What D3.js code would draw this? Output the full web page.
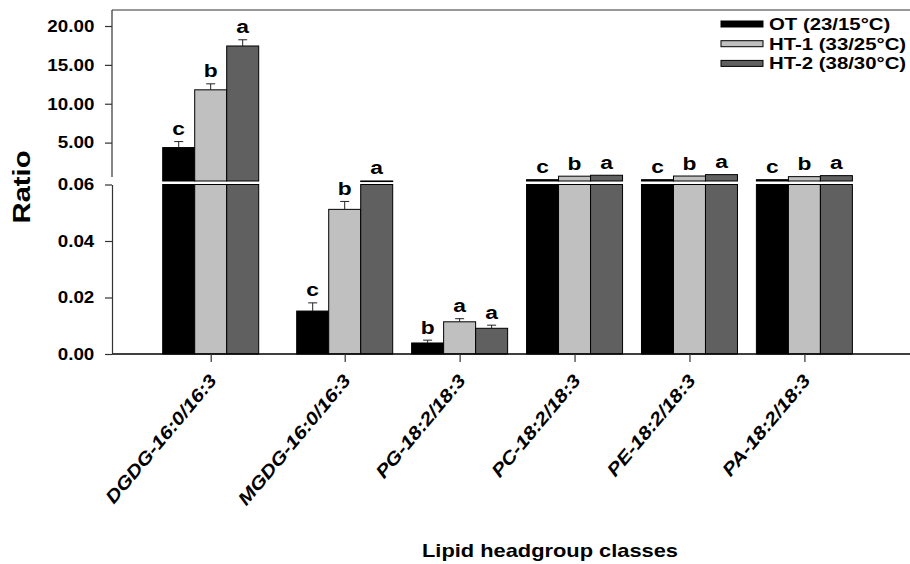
<!DOCTYPE html>
<html>
<head>
<meta charset="utf-8">
<script src="https://cdn.jsdelivr.net/npm/d3@7"></script>
<style>
  html, body { margin: 0; padding: 0; background: #fff; }
  svg text { font-family: "Liberation Sans", Arial, sans-serif; font-weight: bold; fill: #000; }
</style>
</head>
<body>
<svg id="chart" width="910" height="564"></svg>
<script>
// Lipid species and treatments
const categories = ["DGDG-16:0/16:3", "MGDG-16:0/16:3", "PG-18:2/18:3", "PC-18:2/18:3", "PE-18:2/18:3", "PA-18:2/18:3"];
const seriesNames = ["OT (23/15°C)", "HT-1 (33/25°C)", "HT-2 (38/30°C)"];
const seriesColors = ["#000000", "#c0c0c0", "#606060"];

// Mean ratios per treatment
const valuesOT  = [4.36, 0.0152, 0.0039, 0.23, 0.23, 0.23];
const valuesHT1 = [11.79, 0.0512, 0.0114, 0.68, 0.70, 0.62];
const valuesHT2 = [17.43, 0.065, 0.0091, 0.80, 0.88, 0.75];

// Standard errors (upper whisker only)
const errorsOT  = [0.77, 0.0029, 0.0010, 0, 0, 0];
const errorsHT1 = [0.77, 0.0028, 0.0011, 0, 0, 0];
const errorsHT2 = [0.80, 0, 0.0011, 0, 0, 0];

// Significance letters
const lettersOT  = ["c", "c", "b", "c", "c", "c"];
const lettersHT1 = ["b", "b", "a", "b", "b", "b"];
const lettersHT2 = ["a", "a", "a", "a", "a", "a"];

// Axis tick values for the two segments of the broken axis
const upperTicks = [5, 10, 15, 20];
const lowerTicks = [0, 0.02, 0.04, 0.06];

const values = [valuesOT, valuesHT1, valuesHT2];
const errors = [errorsOT, errorsHT1, errorsHT2];
const letters = [lettersOT, lettersHT1, lettersHT2];

const svg = d3.select("#chart");
const left = 112, right = 910;
const breakLow = 0.06;      // top of the lower segment
const SX = 1.2;             // horizontal widening of the lettering

// Broken y axis: two linear segments
const yLow = d3.scaleLinear().domain([0, breakLow]).range([354, 184.5]);
const yUp  = d3.scaleLinear().domain([breakLow, 22.06]).range([181, 10]);

// Group centres along the x axis
const xGroup = d3.scaleLinear().domain([0, 1, 5]).range([210.7, 344.7, 804.4]);
const xSeries = d3.scaleBand().domain([0, 1, 2]).range([-48, 48]).padding(0);

function stretchedText(g, x, y, str, size, opts = {}) {
  const rot = opts.rotate || 0;
  const sx = opts.sx || SX;
  return g.append("text")
    .attr("transform", `translate(${x},${y}) rotate(${rot}) scale(${sx},1)`)
    .attr("text-anchor", opts.anchor || "middle")
    .style("font-size", size + "px")
    .style("font-style", opts.italic ? "italic" : "normal")
    .text(str);
}

// Build bar records
const bars = [];
categories.forEach((cat, i) => {
  for (let s = 0; s < 3; s++) {
    bars.push({ i, s, v: values[s][i], e: errors[s][i], l: letters[s][i] });
  }
});

const barW = xSeries.bandwidth();
const barX = d => xGroup(d.i) + xSeries(d.s);

// Lower segment bars (clipped at the break)
svg.append("g").selectAll("rect").data(bars).join("rect")
  .attr("x", barX)
  .attr("width", barW)
  .attr("y", d => yLow(Math.min(d.v, breakLow)))
  .attr("height", d => yLow(0) - yLow(Math.min(d.v, breakLow)))
  .attr("fill", d => seriesColors[d.s])
  .attr("stroke", "#000").attr("stroke-width", 1);

// Upper segment bars (only the part above the break)
svg.append("g").selectAll("rect").data(bars.filter(d => d.v > breakLow)).join("rect")
  .attr("x", barX)
  .attr("width", barW)
  .attr("y", d => yUp(d.v))
  .attr("height", d => Math.max(0.6, yUp(breakLow) - yUp(d.v)))
  .attr("fill", d => seriesColors[d.s])
  .attr("stroke", "#000").attr("stroke-width", 1);

// Error whiskers
const yOf = v => v > breakLow ? yUp(v) : yLow(v);
const errG = svg.append("g").attr("stroke", "#222").attr("stroke-width", 1);
bars.filter(d => d.e > 0).forEach(d => {
  const cx = barX(d) + barW / 2;
  const y0 = yOf(d.v), y1 = yOf(d.v + d.e);
  errG.append("line").attr("x1", cx).attr("x2", cx).attr("y1", y0).attr("y2", y1);
  errG.append("line").attr("x1", cx - 4.5).attr("x2", cx + 4.5).attr("y1", y1).attr("y2", y1);
});

// Significance letters
const letterG = svg.append("g");
bars.forEach(d => {
  const cx = barX(d) + barW / 2;
  const yTop = yOf(d.v + d.e);
  stretchedText(letterG, cx, yTop - 6.5, d.l, 19);
});

// Frame lines: top border and x baseline
svg.append("line").attr("x1", left).attr("x2", right).attr("y1", 10).attr("y2", 10)
  .attr("stroke", "#333").attr("stroke-width", 1.2);
svg.append("line").attr("x1", left).attr("x2", right).attr("y1", 354).attr("y2", 354)
  .attr("stroke", "#000").attr("stroke-width", 1.5);

// Y axes
function styleAxis(g) {
  g.select(".domain").attr("stroke", "#333").attr("stroke-width", 1.2);
  g.selectAll(".tick line").attr("stroke", "#333").attr("stroke-width", 1.2);
  g.selectAll(".tick text")
    .attr("transform", `scale(${1.14},1)`)
    .style("font-size", "16.5px")
    .style("font-family", "'Liberation Sans', Arial, sans-serif")
    .style("font-weight", "bold");
}
const upAxis = svg.append("g").attr("transform", `translate(${left},0)`)
  .call(d3.axisLeft(yUp).tickValues(upperTicks).tickFormat(d3.format(".2f"))
    .tickSize(7).tickSizeOuter(0).tickPadding(8.5));
styleAxis(upAxis);
upAxis.select(".domain").attr("d", `M0,${yUp(22.06)}V${yUp(breakLow) - 4}`);

const lowAxis = svg.append("g").attr("transform", `translate(${left},0)`)
  .call(d3.axisLeft(yLow).tickValues(lowerTicks).tickFormat(d3.format(".2f"))
    .tickSize(7).tickSizeOuter(0).tickPadding(8.5));
styleAxis(lowAxis);

// X axis ticks
const xAxis = svg.append("g").attr("transform", "translate(0,354)")
  .call(d3.axisBottom(xGroup).tickValues(d3.range(categories.length)).tickFormat("")
    .tickSize(8).tickSizeOuter(0));
xAxis.select(".domain").remove();
xAxis.selectAll(".tick line").attr("stroke", "#333").attr("stroke-width", 1.2);

// Category labels, rotated
const catG = svg.append("g");
categories.forEach((c, i) => {
  stretchedText(catG, xGroup(i) + 7, 381, c, 18, { rotate: -50, anchor: "end", italic: true, sx: 1.18 });
});

// Axis titles
stretchedText(svg, 30, 187, "Ratio", 23.5, { rotate: -90, sx: 1.24 });
stretchedText(svg, 550, 556.5, "Lipid headgroup classes", 18.2, { sx: 1.2 });

// Legend
const legend = svg.append("g");
seriesNames.forEach((name, s) => {
  const cy = 24 + s * 19.7;
  legend.append("rect")
    .attr("x", 721).attr("y", cy - 3).attr("width", 42).attr("height", 6)
    .attr("fill", seriesColors[s]).attr("stroke", "#000").attr("stroke-width", 1);
  stretchedText(legend, 769, cy + 6, name, 16.3, { anchor: "start", sx: 1.25 });
});
</script>
</body>
</html>
